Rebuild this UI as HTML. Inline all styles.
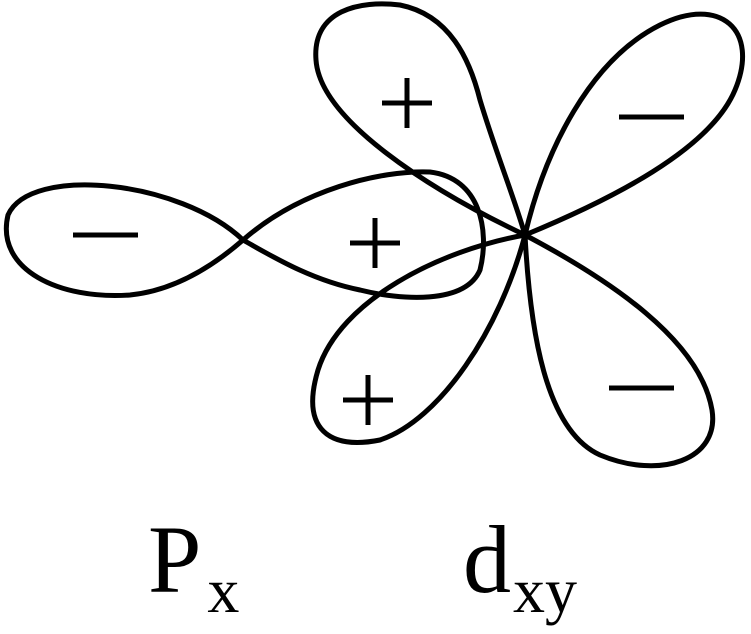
<!DOCTYPE html>
<html><head><style>html,body{margin:0;padding:0;background:#fff;width:751px;height:634px;overflow:hidden}</style></head>
<body>
<svg width="751" height="634" viewBox="0 0 751 634" xmlns="http://www.w3.org/2000/svg">
<g fill="none" stroke="#000" stroke-width="5" stroke-linejoin="round">
<path d="M243,240 C180,180 30,165 8,215 C-5,270 60,300 130,295 C180,290 220,260 243,240 Z"/>
<path d="M243,240 C300,190 380,170 430,172 C480,178 490,230 480,270 C465,305 400,300 360,290 C310,280 270,255 243,240 Z"/>
<path d="M525,235 C430,190 320,120 316,60 C312,10 360,0 400,5 C450,15 470,60 480,100 C495,150 515,200 525,235 Z"/>
<path d="M525,235 C545,150 590,60 660,25 C720,-5 760,30 735,90 C710,150 610,200 525,235 Z"/>
<path d="M525,235 C440,250 340,300 318,370 C300,430 330,450 380,440 C440,420 500,330 525,235 Z"/>
<path d="M525,235 C530,330 545,430 600,455 C660,480 720,460 712,410 C700,340 610,280 525,235 Z"/>
</g>
<g stroke="#000" stroke-width="5">
<line x1="73" y1="235" x2="138" y2="235"/>
<line x1="619" y1="117" x2="684" y2="117"/>
<line x1="609" y1="388" x2="674" y2="388"/>
<line x1="350" y1="243" x2="400" y2="243"/><line x1="375" y1="218" x2="375" y2="268"/>
<line x1="382" y1="103" x2="432" y2="103"/><line x1="407" y1="78" x2="407" y2="128"/>
<line x1="343" y1="400" x2="393" y2="400"/><line x1="368" y1="375" x2="368" y2="425"/>
</g>
<text x="148" y="592" font-family="Liberation Serif, serif" font-size="96">P<tspan font-size="64" dy="20" dx="6">x</tspan></text>
<text x="463" y="592" font-family="Liberation Serif, serif" font-size="96">d<tspan font-size="64" dy="20" dx="2">xy</tspan></text>
</svg>
</body></html>
